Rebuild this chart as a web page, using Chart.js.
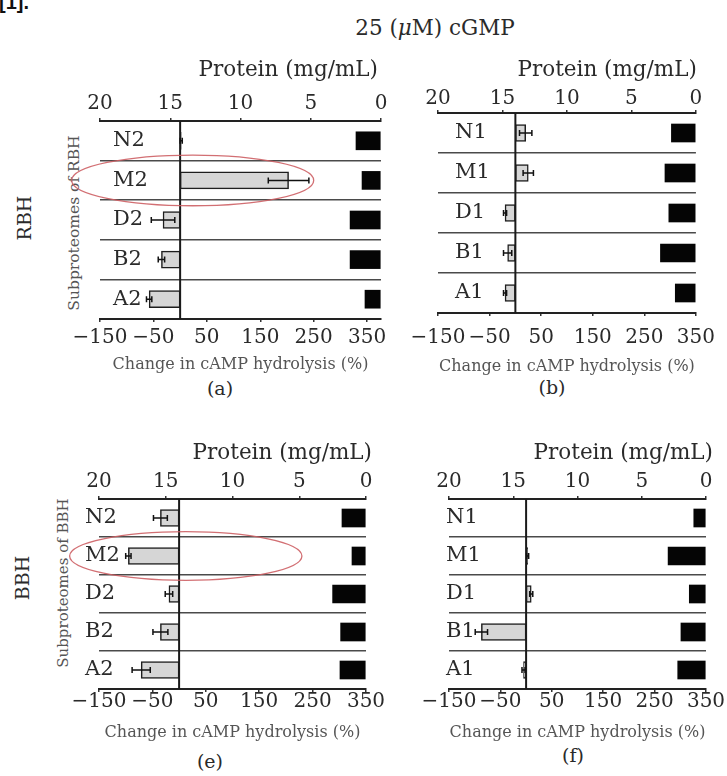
<!DOCTYPE html>
<html><head><meta charset="utf-8">
<script src="https://cdn.jsdelivr.net/npm/chart.js@4.4.1/dist/chart.umd.min.js"></script>
<style>
html,body{margin:0;padding:0;background:#fff;}
body{width:727px;height:776px;position:relative;overflow:hidden;font-family:"DejaVu Serif",serif;color:#2a2a2a;}
.t{position:absolute;white-space:nowrap;transform:translate(-50%,-50%);line-height:1;}
.r{transform:translate(-50%,-50%) rotate(-90deg);}
canvas.c{position:absolute;}
</style></head><body>
<div class="t" style="left:14px;top:2px;font-family:'Liberation Sans',sans-serif;font-weight:bold;font-size:20px;color:#111;">[1].</div>
<div class="t" style="left:435px;top:28px;font-size:21.5px;">25 (<i>μ</i>M) cGMP</div>
<div class="t r" style="left:24px;top:218px;font-size:19px;">RBH</div>
<div class="t r" style="left:75px;top:223px;font-size:15.5px;color:#555;">Subproteomes of RBH</div>
<div class="t r" style="left:22px;top:578px;font-size:19px;">BBH</div>
<div class="t r" style="left:63px;top:583px;font-size:15px;color:#555;">Subproteomes of BBH</div>
<div class="t" style="left:220px;top:388px;font-size:19px;">(a)</div>
<div class="t" style="left:552px;top:387px;font-size:19px;">(b)</div>
<div class="t" style="left:210px;top:761px;font-size:19px;">(e)</div>
<div class="t" style="left:573px;top:755px;font-size:19px;">(f)</div>
<canvas class="c" id="pa" width="346" height="316" style="left:60px;top:58px;"></canvas>
<canvas class="c" id="pb" width="329" height="318" style="left:398px;top:58px;"></canvas>
<canvas class="c" id="pe" width="332" height="301" style="left:59px;top:441px;"></canvas>
<canvas class="c" id="pf" width="318" height="301" style="left:409px;top:441px;"></canvas>
<script>
// ---- data ----
const labelsRBH2 = ['N2', 'M2', 'D2', 'B2', 'A2'];
const labelsRBH1 = ['N1', 'M1', 'D1', 'B1', 'A1'];
const labelsBBH2 = ['N2', 'M2', 'D2', 'B2', 'A2'];
const labelsBBH1 = ['N1', 'M1', 'D1', 'B1', 'A1'];

// Change in cAMP hydrolysis (%) and its error
const changeA = [2, 203, -32, -35, -58];
const errorA  = [2, 38, 22, 6, 5];
const changeB = [20, 25, -20, -15, -20];
const errorB  = [12, 10, 3, 8, 3];
const changeE = [-35, -95, -19, -35, -71];
const errorE  = [13, 5, 7, 14, 17];
const changeF = [0, 3, 10, -87, -5];
const errorF  = [0, 2, 3, 12, 3];

// Protein (mg/mL)
const proteinA = [1.78, 1.35, 2.2, 2.2, 1.14];
const proteinB = [1.9, 2.4, 2.1, 2.75, 1.6];
const proteinE = [1.8, 1.05, 2.5, 1.9, 1.95];
const proteinF = [0.95, 2.95, 1.3, 1.95, 2.2];

// tick labels
const changeTicks = [-150, -50, 50, 150, 250, 350];
const proteinTicks = [20, 15, 10, 5, 0];

const changeTitle = 'Change in cAMP hydrolysis (%)';
const proteinTitle = 'Protein (mg/mL)';

// ---- drawing ----
const SERIF = "'DejaVu Serif', serif";

const decor = {
  id: 'decor',
  afterDatasetsDraw(chart, args, opts) {
    const {ctx, chartArea, scales} = chart;
    const x = scales.x, y = scales.y;
    ctx.save();
    const x0 = x.getPixelForValue(0);
    ctx.strokeStyle = '#1a1a1a';
    ctx.lineWidth = 2;
    ctx.beginPath();
    ctx.moveTo(x0, chartArea.top);
    ctx.lineTo(x0, chartArea.bottom);
    ctx.stroke();
    const vals = chart.data.datasets[0].data;
    ctx.lineWidth = 1.5;
    ctx.strokeStyle = '#111';
    vals.forEach((v, i) => {
      const e = opts.errors[i];
      if (!e) return;
      const yc = y.getPixelForValue(i);
      const xa = x.getPixelForValue(v - e), xb = x.getPixelForValue(v + e);
      ctx.beginPath();
      ctx.moveTo(xa, yc); ctx.lineTo(xb, yc);
      ctx.moveTo(xa, yc - 3); ctx.lineTo(xa, yc + 3);
      ctx.moveTo(xb, yc - 3); ctx.lineTo(xb, yc + 3);
      ctx.stroke();
    });
    ctx.restore();
  },
  afterDraw(chart, args, opts) {
    const {ctx, scales} = chart;
    const x = scales.x, y = scales.y, x2 = scales.x2;
    ctx.save();
    // top axis title (right aligned to the protein axis end)
    ctx.fillStyle = '#2a2a2a';
    ctx.font = "21.5px " + SERIF;
    ctx.textAlign = 'right';
    ctx.textBaseline = 'middle';
    ctx.fillText(proteinTitle, x2.right + opts.titleDx, x2.top + 12);
    const h = opts.highlight;
    if (h) {
      const idx = chart.data.labels.indexOf(h.label);
      const yc = y.getPixelForValue(idx);
      const xa = x.getPixelForValue(h.from), xb = x.getPixelForValue(h.to);
      const rowH = Math.abs(y.getPixelForValue(1) - y.getPixelForValue(0));
      ctx.strokeStyle = 'rgba(205,95,100,0.9)';
      ctx.lineWidth = 1.3;
      ctx.beginPath();
      ctx.ellipse((xa + xb) / 2, yc, (xb - xa) / 2, rowH * 0.64, 0, 0, Math.PI * 2);
      ctx.stroke();
    }
    ctx.restore();
  }
};

function panel(id, labels, change, errors, protein, g, highlight) {
  new Chart(document.getElementById(id), {
    type: 'bar',
    data: {
      labels: labels,
      datasets: [
        { data: change, xAxisID: 'x', yAxisID: 'y', backgroundColor: '#d6d6d6', borderColor: '#1e1e1e',
          borderWidth: 1.5, borderSkipped: false, barThickness: 17 },
        { data: protein, xAxisID: 'x2', yAxisID: 'y', backgroundColor: '#050505', borderWidth: 0, barThickness: 18 }
      ]
    },
    options: {
      indexAxis: 'y',
      responsive: false,
      animation: false,
      devicePixelRatio: 1,
      layout: { padding: { left: g.pl, right: g.pr, top: 0, bottom: 0 } },
      datasets: { bar: { grouped: false } },
      plugins: { legend: { display: false }, tooltip: { enabled: false },
                 decor: { errors: errors, highlight: highlight, titleDx: g.titleDx } },
      scales: {
        x: {
          type: 'linear', position: 'bottom', min: -150, max: g.xMax,
          afterBuildTicks: s => { s.ticks = changeTicks.map(v => ({ value: v })); },
          afterFit: s => { s.height = g.bottomH; },
          grid: { drawOnChartArea: false, drawTicks: true, tickLength: 3, color: '#333', lineWidth: 1.5 },
          border: { display: true, color: '#222', width: 2 },
          ticks: { font: { family: SERIF, size: 20, lineHeight: 1 }, color: '#2a2a2a', padding: g.bPad,
                   maxRotation: 0, autoSkip: false,
                   callback: v => v < 0 ? '\u2212' + Math.abs(v) : String(v) },
          title: { display: true, text: changeTitle, color: '#555',
                   font: { family: SERIF, size: 16, lineHeight: 1.2 }, padding: { top: 0, bottom: 0 } }
        },
        x2: {
          type: 'linear', position: 'top', min: 0, max: 20, reverse: true,
          afterBuildTicks: s => { s.ticks = proteinTicks.map(v => ({ value: v })); },
          afterFit: s => { s.height = g.topH; },
          grid: { drawOnChartArea: false, drawTicks: true, tickLength: 3, color: '#333', lineWidth: 1.5 },
          border: { display: true, color: '#222', width: 2 },
          ticks: { font: { family: SERIF, size: 20, lineHeight: 1 }, color: '#2a2a2a', padding: g.tPad,
                   maxRotation: 0, autoSkip: false },
          title: { display: false }
        },
        y: {
          type: 'category', position: 'left', offset: true,
          afterFit: s => { s.width = 0; },
          grid: { offset: true, color: '#4a4a4a', lineWidth: 1.5, drawTicks: false },
          border: { display: false },
          ticks: { mirror: true, padding: g.labPad, font: { family: SERIF, size: 21 }, color: '#2a2a2a' }
        }
      }
    },
    plugins: [decor]
  });
}

panel('pa', labelsRBH2, changeA, errorA, proteinA,
  { pl: 40, pr: 25, topH: 63, bottomH: 55, bPad: 6, tPad: 4, xMax: 376, labPad: 13, titleDx: -3 },
  { label: 'M2', from: -203, to: 250 });
panel('pb', labelsRBH1, changeB, errorB, proteinB,
  { pl: 40, pr: 20, topH: 55, bottomH: 63, bPad: 12, tPad: 1, xMax: 350, labPad: 17, titleDx: 1 }, null);
panel('pe', labelsBBH2, changeE, errorE, proteinE,
  { pl: 40, pr: 25, topH: 58, bottomH: 53, bPad: 0, tPad: 4, xMax: 350, labPad: -14, titleDx: 6 },
  { label: 'M2', from: -205, to: 230 });
panel('pf', labelsBBH1, changeF, errorF, proteinF,
  { pl: 40, pr: 21, topH: 58, bottomH: 53, bPad: 0, tPad: 4, xMax: 350, labPad: -3, titleDx: 7 }, null);
</script>
</body></html>
